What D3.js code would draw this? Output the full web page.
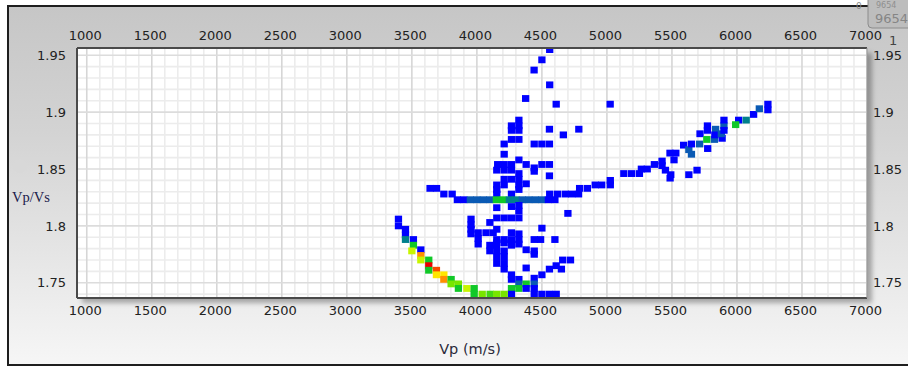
<!DOCTYPE html>
<html>
<head>
<meta charset="utf-8">
<script src="https://cdn.jsdelivr.net/npm/d3@7"></script>
<style>
  html, body { margin: 0; padding: 0; background: #ffffff; }
  svg { display: block; }
</style>
</head>
<body>
<svg id="chart" width="908" height="368"></svg>
<script>
// Axis ticks and labels
const xTicks = [1000, 1500, 2000, 2500, 3000, 3500, 4000, 4500, 5000, 5500, 6000, 6500, 7000];
const yTicks = [1.95, 1.9, 1.85, 1.8, 1.75];
const yTickLabels = ["1.95", "1.9", "1.85", "1.8", "1.75"];
const xTitle = "Vp (m/s)";
const yTitle = "Vp/Vs";

// Crossplot density cells: [Vp (m/s), Vp/Vs, sample count]
// Low-velocity curved trend (the hot part of the histogram)
const arcCells = [
  [3397, 1.806, 1], [3397, 1.800, 1], [3451, 1.797, 1], [3451, 1.792, 1], [3451, 1.788, 3],
  [3512, 1.788, 1], [3512, 1.783, 4], [3500, 1.778, 6], [3569, 1.779, 1], [3569, 1.774, 8],
  [3569, 1.770, 6], [3630, 1.770, 4], [3630, 1.765, 9], [3630, 1.761, 4], [3689, 1.761, 8.5],
  [3689, 1.757, 7], [3746, 1.757, 7], [3746, 1.753, 8], [3802, 1.753, 4], [3802, 1.749, 5],
  [3858, 1.749, 5], [3858, 1.745, 4], [3923, 1.745, 6], [3979, 1.745, 4], [3979, 1.740, 4],
  [4041, 1.740, 5], [4102, 1.740, 4.5], [4153, 1.740, 5], [4210, 1.740, 5]
];

// Scattered samples above the main cloud
const upperCells = [
  [4560, 1.955, 1], [4500, 1.946, 1], [4440, 1.937, 1], [4560, 1.924, 1], [4375, 1.912, 1],
  [4610, 1.907, 1], [5025, 1.907, 1],
  [4323, 1.893, 1], [4266, 1.888, 1], [4323, 1.888, 1], [4266, 1.884, 1], [4323, 1.884, 1],
  [4558, 1.885, 1], [4665, 1.880, 1], [4784, 1.885, 1],
  [4266, 1.876, 1], [4323, 1.876, 1],
  [4210, 1.872, 1], [4441, 1.872, 1], [4500, 1.872, 1], [4558, 1.872, 1],
  [4210, 1.863, 1], [4323, 1.858, 1],
  [4160, 1.854, 1], [4210, 1.854, 1], [4266, 1.854, 1], [4379, 1.854, 1],
  [4500, 1.854, 1], [4558, 1.854, 1], [4441, 1.851, 1]
];

// Central cloud and the horizontal band near 1.823
const centralCells = [
  [4153, 1.849, 1], [4210, 1.849, 1], [4266, 1.849, 1], [4441, 1.848, 1], [4323, 1.846, 1],
  [4558, 1.844, 1],
  [4210, 1.841, 1], [4266, 1.841, 1], [4323, 1.841, 1], [4379, 1.837, 1],
  [4153, 1.836, 1], [4210, 1.836, 1], [4323, 1.836, 1],
  [3640, 1.833, 1], [3690, 1.833, 1], [4153, 1.832, 1], [4323, 1.832, 1],
  [3746, 1.828, 1], [3810, 1.828, 1], [4153, 1.828, 1], [4266, 1.828, 1], [4560, 1.828, 1],
  [4620, 1.828, 1], [4680, 1.828, 1], [4730, 1.828, 1], [4782, 1.828, 1],
  [3850, 1.823, 1], [3900, 1.823, 1], [3950, 1.823, 2], [4000, 1.823, 2], [4050, 1.823, 2],
  [4100, 1.823, 2], [4150, 1.823, 4], [4200, 1.823, 4], [4250, 1.823, 3], [4300, 1.823, 3],
  [4350, 1.823, 2], [4400, 1.823, 2], [4450, 1.823, 2], [4500, 1.823, 2], [4550, 1.823, 1],
  [4600, 1.823, 1],
  [4153, 1.816, 1], [4266, 1.817, 1], [4323, 1.818, 1], [4323, 1.813, 1], [4700, 1.811, 1],
  [4153, 1.807, 1], [4210, 1.807, 1], [4266, 1.807, 1], [4323, 1.807, 1],
  [3955, 1.806, 1], [3955, 1.801, 1], [4100, 1.803, 1],
  [3955, 1.797, 1], [4153, 1.797, 1], [4500, 1.798, 1],
  [3955, 1.793, 1], [4010, 1.794, 1], [4070, 1.794, 1], [4125, 1.794, 1], [4266, 1.794, 1],
  [4323, 1.793, 1],
  [4010, 1.789, 1], [4153, 1.788, 1], [4210, 1.788, 1], [4266, 1.788, 1], [4323, 1.788, 1],
  [4441, 1.788, 1], [4490, 1.788, 1], [4600, 1.788, 1],
  [4153, 1.785, 1], [4210, 1.785, 1],
  [4010, 1.784, 1], [4100, 1.783, 1], [4150, 1.783, 1], [4266, 1.783, 1], [4323, 1.784, 1],
  [4100, 1.778, 1], [4153, 1.778, 1], [4210, 1.778, 1], [4379, 1.779, 1], [4441, 1.778, 1],
  [4441, 1.775, 1],
  [4153, 1.773, 1], [4210, 1.773, 1], [4660, 1.770, 1], [4720, 1.770, 1],
  [4153, 1.767, 1], [4210, 1.767, 1], [4610, 1.765, 1], [4650, 1.762, 1],
  [4210, 1.762, 1], [4379, 1.763, 1], [4558, 1.762, 1],
  [4266, 1.757, 1], [4500, 1.757, 1],
  [4266, 1.753, 1], [4323, 1.753, 1], [4441, 1.754, 1],
  [4323, 1.749, 2], [4379, 1.749, 4], [4441, 1.749, 2],
  [4266, 1.745, 4], [4323, 1.745, 4], [4379, 1.745, 1], [4441, 1.745, 1],
  [4266, 1.740, 1], [4441, 1.740, 1], [4500, 1.740, 1], [4558, 1.740, 1], [4610, 1.740, 1]
];

// High-velocity rising trend
const trendCells = [
  [4790, 1.833, 1], [4850, 1.833, 1], [4910, 1.836, 1], [4960, 1.836, 1], [5026, 1.840, 1],
  [5026, 1.836, 1], [5130, 1.846, 1], [5190, 1.846, 1], [5250, 1.846, 1], [5265, 1.850, 1],
  [5310, 1.850, 1], [5365, 1.854, 1], [5424, 1.857, 1], [5424, 1.853, 1], [5450, 1.849, 1],
  [5491, 1.845, 1], [5486, 1.842, 1], [5485, 1.864, 1], [5530, 1.864, 1], [5516, 1.858, 1],
  [5590, 1.871, 1], [5630, 1.867, 2], [5650, 1.872, 1], [5650, 1.863, 2], [5630, 1.845, 1],
  [5693, 1.849, 1], [5713, 1.872, 2], [5716, 1.881, 1], [5775, 1.868, 1], [5768, 1.876, 4],
  [5827, 1.876, 2], [5886, 1.877, 1], [5773, 1.888, 1], [5773, 1.884, 1], [5836, 1.885, 2],
  [5830, 1.880, 1], [5880, 1.881, 2],
  [5900, 1.888, 2], [5900, 1.884, 1], [5900, 1.893, 1], [6013, 1.893, 1], [5990, 1.889, 4],
  [6071, 1.893, 3], [6128, 1.898, 1], [6172, 1.903, 2], [6238, 1.907, 1], [6238, 1.902, 1]
];

// Count-to-colour ramp (jet-like)
const countStops = [1, 2, 3, 4, 5, 6, 7, 8, 9];
const countColors = ["#0000ff", "#0a5ab4", "#00808c", "#10c828", "#78e600", "#c8f500", "#ffe600", "#ff9000", "#f00000"];

const svg = d3.select("#chart");
const W = 908, H = 368;
const plot = { left: 77, right: 867, top: 48, bottom: 298 };

const x = d3.scaleLinear().domain([925, 7000]).range([plot.left, plot.right]);
const y = d3.scaleLinear().domain([1.7366, 1.9564]).range([plot.bottom, plot.top]);
const color = d3.scaleLinear().domain(countStops).range(countColors).interpolate(d3.interpolateRgb).clamp(true);

const defs = svg.append("defs");
const bg = defs.append("linearGradient").attr("id", "bgGrad").attr("x1", 0).attr("y1", 0).attr("x2", 0).attr("y2", 1);
bg.append("stop").attr("offset", "0%").attr("stop-color", "#c6c6c6");
bg.append("stop").attr("offset", "35%").attr("stop-color", "#d3d3d3");
bg.append("stop").attr("offset", "100%").attr("stop-color", "#f6f6f6");

const shadow = defs.append("filter").attr("id", "plotShadow")
  .attr("x", "-5%").attr("y", "-5%").attr("width", "115%").attr("height", "120%");
shadow.append("feDropShadow").attr("dx", 5).attr("dy", 5).attr("stdDeviation", 2.5)
  .attr("flood-color", "#000").attr("flood-opacity", 0.3);

defs.append("clipPath").attr("id", "plotClip").append("rect")
  .attr("x", plot.left).attr("y", plot.top)
  .attr("width", plot.right - plot.left).attr("height", plot.bottom - plot.top);

// Panel background and frame
svg.append("rect").attr("x", 0).attr("y", 0).attr("width", W).attr("height", H).attr("fill", "#ffffff");
svg.append("rect").attr("x", 8).attr("y", 6).attr("width", W + 4).attr("height", 359)
  .attr("fill", "url(#bgGrad)").attr("stroke", "#1e1e1e").attr("stroke-width", 2);

// Plot area
svg.append("rect")
  .attr("x", plot.left).attr("y", plot.top)
  .attr("width", plot.right - plot.left).attr("height", plot.bottom - plot.top)
  .attr("fill", "#ffffff").attr("filter", "url(#plotShadow)");

// Grid
const grid = svg.append("g").attr("clip-path", "url(#plotClip)");
const minorX = d3.range(1000, 7001, 100).filter(v => v % 500 !== 0);
const minorY = d3.range(174, 196).map(v => v / 100).filter(v => Math.round(v * 100) % 5 !== 0);
grid.selectAll(".vminor").data(minorX).join("line")
  .attr("x1", d => x(d)).attr("x2", d => x(d)).attr("y1", plot.top).attr("y2", plot.bottom)
  .attr("stroke", "#ececec").attr("stroke-width", 1.6);
grid.selectAll(".hminor").data(minorY).join("line")
  .attr("y1", d => y(d)).attr("y2", d => y(d)).attr("x1", plot.left).attr("x2", plot.right)
  .attr("stroke", "#ececec").attr("stroke-width", 1.6);
grid.selectAll(".vmajor").data(xTicks).join("line")
  .attr("x1", d => x(d)).attr("x2", d => x(d)).attr("y1", plot.top).attr("y2", plot.bottom)
  .attr("stroke", "#d6d6d6").attr("stroke-width", 1.6);
grid.selectAll(".hmajor").data(yTicks).join("line")
  .attr("y1", d => y(d)).attr("y2", d => y(d)).attr("x1", plot.left).attr("x2", plot.right)
  .attr("stroke", "#dcdcdc").attr("stroke-width", 1.6);

// Density cells
const halfW = 28, halfH = 0.003;
const cellLayer = svg.append("g").attr("clip-path", "url(#plotClip)");
[upperCells, centralCells, trendCells, arcCells].forEach(group => {
  cellLayer.append("g").selectAll("rect").data(group).join("rect")
    .attr("x", d => x(d[0] - halfW))
    .attr("y", d => y(d[1] + halfH))
    .attr("width", d => x(d[0] + halfW) - x(d[0] - halfW))
    .attr("height", d => y(d[1] - halfH) - y(d[1] + halfH))
    .attr("fill", d => color(d[2]));
});

// Plot border
const border = svg.append("g").attr("fill", "none");
border.append("line").attr("x1", plot.left).attr("x2", plot.right).attr("y1", plot.top).attr("y2", plot.top)
  .attr("stroke", "#4a4a4a").attr("stroke-width", 2);
border.append("line").attr("x1", plot.left).attr("x2", plot.right).attr("y1", plot.bottom).attr("y2", plot.bottom)
  .attr("stroke", "#4a4a4a").attr("stroke-width", 2);
border.append("line").attr("x1", plot.left).attr("x2", plot.left).attr("y1", plot.top).attr("y2", plot.bottom)
  .attr("stroke", "#4a4a4a").attr("stroke-width", 2);
border.append("line").attr("x1", plot.right).attr("x2", plot.right).attr("y1", plot.top).attr("y2", plot.bottom)
  .attr("stroke", "#9a9a9a").attr("stroke-width", 1);

// Axes (labels only, no tick marks)
const font = "'DejaVu Sans', Verdana, sans-serif";
function styleAxis(g) {
  g.select(".domain").remove();
  g.selectAll(".tick line").remove();
  g.selectAll("text").attr("font-family", font).attr("font-size", 13).attr("fill", "#222");
}
svg.append("g").attr("transform", `translate(-2,${plot.top - 8})`)
  .call(d3.axisTop(x).tickValues(xTicks).tickSize(0).tickPadding(0).tickFormat(d3.format("d")))
  .call(styleAxis);
svg.append("g").attr("transform", `translate(-2,${plot.bottom + 8})`)
  .call(d3.axisBottom(x).tickValues(xTicks).tickSize(0).tickPadding(0).tickFormat(d3.format("d")))
  .call(styleAxis);
svg.append("g").attr("transform", `translate(${plot.left - 11},0)`)
  .call(d3.axisLeft(y).tickValues(yTicks).tickSize(0).tickPadding(0).tickFormat((d, i) => yTickLabels[i]))
  .call(styleAxis);
svg.append("g").attr("transform", `translate(${plot.right + 6},0)`)
  .call(d3.axisRight(y).tickValues(yTicks).tickSize(0).tickPadding(0).tickFormat((d, i) => yTickLabels[i]))
  .call(styleAxis);

// Axis titles
svg.append("text").attr("x", (plot.left + plot.right) / 2 - 2).attr("y", 354)
  .attr("text-anchor", "middle").attr("font-family", font).attr("font-size", 14.5)
  .attr("fill", "#2a2a3a").text(xTitle);
svg.append("circle").attr("cx", 20).attr("cy", 166).attr("r", 7).attr("fill", "#d8d8d8");
svg.append("text").attr("x", 12).attr("y", 202)
  .attr("font-family", "'Liberation Serif', 'Times New Roman', serif").attr("font-size", 14.5)
  .attr("fill", "#1a1a4a").text(yTitle);

// Overlapping readout tab at the top-right corner
const tab = svg.append("g");
tab.append("path")
  .attr("d", "M868,-2 L868,24 Q868,28 872,28 L912,28 L912,-2 Z")
  .attr("fill", "#bdbdbd").attr("stroke", "#8c8c8c").attr("stroke-width", 1);
tab.append("text").attr("x", 876).attr("y", 8).attr("font-family", font).attr("font-size", 8)
  .attr("fill", "#8f8f8f").text("9654");
tab.append("text").attr("x", 875).attr("y", 23).attr("font-family", font).attr("font-size", 13)
  .attr("fill", "#858585").text("9654");
svg.append("text").attr("x", 856).attr("y", 9).attr("font-family", font).attr("font-size", 9)
  .attr("fill", "#8a8a8a").text("0");
svg.append("text").attr("x", 889).attr("y", 45).attr("font-family", font).attr("font-size", 13)
  .attr("fill", "#444").text("1");
</script>
</body>
</html>
